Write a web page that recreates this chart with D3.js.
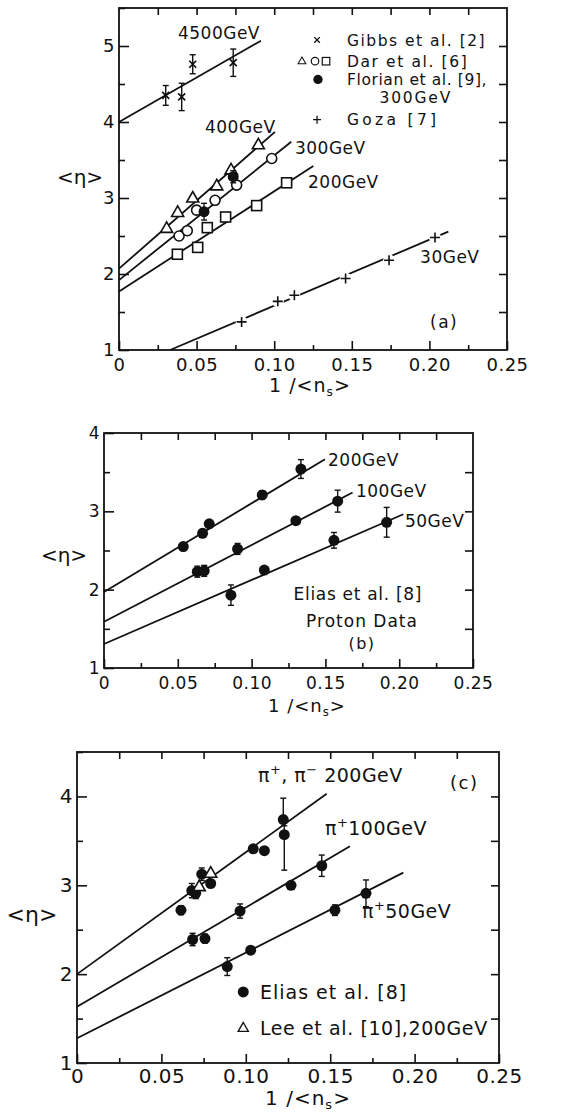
<!DOCTYPE html>
<html>
<head>
<meta charset="utf-8">
<script src="https://cdn.jsdelivr.net/npm/d3@7"></script>
<style>
  body { margin: 0; background: #fff; }
  svg { display: block; background: #fff; }
</style>
</head>
<body>
<svg id="chart" width="561" height="1114"></svg>
<script>
// ---- panel (a) data: <eta> vs 1/<n_s> ----
const gibbs4500 = [
  { x: 0.0301, y: 4.35, lo: 0.13, hi: 0.13 },
  { x: 0.0404, y: 4.33, lo: 0.18, hi: 0.18 },
  { x: 0.0475, y: 4.76, lo: 0.125, hi: 0.125 },
  { x: 0.0736, y: 4.78, lo: 0.18, hi: 0.18 },
]
const dar400 = [[0.0307, 2.60], [0.0378, 2.81], [0.0475, 3.00], [0.0630, 3.16], [0.0722, 3.37], [0.0898, 3.70]]
const dar300 = [[0.0387, 2.50], [0.0440, 2.57], [0.0500, 2.84], [0.0619, 2.97], [0.0758, 3.17], [0.0984, 3.52]]
const dar200 = [[0.0376, 2.26], [0.0507, 2.35], [0.0569, 2.61], [0.0687, 2.75], [0.0887, 2.90], [0.1080, 3.20]]
const florian300 = [
  { x: 0.0548, y: 2.82, lo: 0.11, hi: 0.11 },
  { x: 0.0736, y: 3.28, lo: 0.08, hi: 0.08 },
]
const goza30 = [[0.0790, 1.37], [0.1023, 1.64], [0.1130, 1.72], [0.1460, 1.94], [0.1740, 2.18], [0.2036, 2.48]]
const fitsA = [
  { name: '4500GeV', x: [0, 0.0915], y: [4.00, 5.07] },
  { name: '400GeV', x: [0, 0.1005], y: [2.07, 3.87] },
  { name: '300GeV', x: [0, 0.1110], y: [1.92, 3.74] },
  { name: '200GeV', x: [0, 0.1252], y: [1.77, 3.42] },
  { name: '30GeV', x: [0.0329, 0.2122], y: [1.00, 2.557] },
]

// ---- panel (b) data: Elias et al., proton ----
const eliasP200 = [
  { x: 0.0537, y: 2.55, lo: 0.05, hi: 0.05 },
  { x: 0.0668, y: 2.72, lo: 0.05, hi: 0.05 },
  { x: 0.0713, y: 2.84, lo: 0.04, hi: 0.04 },
  { x: 0.1072, y: 3.21, lo: 0.05, hi: 0.05 },
  { x: 0.1334, y: 3.54, lo: 0.12, hi: 0.12 },
]
const eliasP100 = [
  { x: 0.0632, y: 2.23, lo: 0.07, hi: 0.07 },
  { x: 0.0679, y: 2.24, lo: 0.07, hi: 0.07 },
  { x: 0.0905, y: 2.52, lo: 0.07, hi: 0.07 },
  { x: 0.1300, y: 2.88, lo: 0.04, hi: 0.04 },
  { x: 0.1583, y: 3.13, lo: 0.14, hi: 0.14 },
]
const eliasP50 = [
  { x: 0.0860, y: 1.93, lo: 0.13, hi: 0.13 },
  { x: 0.1086, y: 2.25, lo: 0.04, hi: 0.04 },
  { x: 0.1558, y: 2.63, lo: 0.10, hi: 0.10 },
  { x: 0.1915, y: 2.86, lo: 0.19, hi: 0.19 },
]
const fitsB = [
  { name: '200GeV', x: [0, 0.1497], y: [1.97, 3.666] },
  { name: '100GeV', x: [0, 0.1684], y: [1.59, 3.24] },
  { name: '50GeV', x: [0, 0.2028], y: [1.307, 2.963] },
]

// ---- panel (c) data: pions ----
const pion200 = [
  { x: 0.0616, y: 2.72, lo: 0.05, hi: 0.05 },
  { x: 0.0680, y: 2.94, lo: 0.08, hi: 0.08 },
  { x: 0.0703, y: 2.91, lo: 0.06, hi: 0.06 },
  { x: 0.0739, y: 3.125, lo: 0.07, hi: 0.07 },
  { x: 0.0792, y: 3.02, lo: 0.04, hi: 0.04 },
  { x: 0.1044, y: 3.41, lo: 0, hi: 0 },
  { x: 0.1110, y: 3.39, lo: 0, hi: 0 },
  { x: 0.1222, y: 3.74, lo: 0, hi: 0.24 },
  { x: 0.1228, y: 3.57, lo: 0.40, hi: 0.10 },
]
const lee200 = [[0.0724, 2.985], [0.0792, 3.136]]
const pion100 = [
  { x: 0.0685, y: 2.39, lo: 0.07, hi: 0.07 },
  { x: 0.0758, y: 2.40, lo: 0.05, hi: 0.05 },
  { x: 0.0966, y: 2.71, lo: 0.08, hi: 0.08 },
  { x: 0.1268, y: 3.00, lo: 0.03, hi: 0.03 },
  { x: 0.1450, y: 3.22, lo: 0.12, hi: 0.12 },
]
const pion50 = [
  { x: 0.0890, y: 2.085, lo: 0.10, hi: 0.10 },
  { x: 0.1029, y: 2.27, lo: 0.03, hi: 0.03 },
  { x: 0.1528, y: 2.72, lo: 0.06, hi: 0.06 },
  { x: 0.1712, y: 2.91, lo: 0.15, hi: 0.15 },
]
const fitsC = [
  { name: '200', x: [0, 0.1479], y: [2.00, 4.03] },
  { name: '100', x: [0, 0.1617], y: [1.634, 3.44] },
  { name: '50', x: [0, 0.1933], y: [1.278, 3.143] },
]

const xTicks = [0, 0.05, 0.10, 0.15, 0.20, 0.25]
const xMinorTicks = [0.025, 0.075, 0.125, 0.175, 0.225]

const FONT = '"DejaVu Sans", Verdana, sans-serif'
const INK = '#111'
const svg = d3.select('#chart')

function panel(o) {
  const g = svg.append('g')
  const x = d3.scaleLinear().domain([0, 0.25]).range([o.left, o.right])
  const y = d3.scaleLinear().domain([1, o.ymax]).range([o.bottom, o.top])
  const yMajor = d3.range(1, o.ymax + 0.001, 1)
  const yHalf = d3.range(1.5, o.ymax + 0.001, 0.5)
  const allX = d3.range(0.025, 0.25, 0.025)
  const fmtX = (d) => (d === 0 ? '0' : d.toFixed(2))

  const style = (s) => {
    s.select('.domain').remove()
    s.selectAll('line').attr('stroke', INK).attr('stroke-width', 1.6)
    s.selectAll('text')
      .attr('fill', INK)
      .attr('font-family', FONT)
      .attr('font-size', o.tickFont)
      .attr('letter-spacing', o.tickLs)
  }

  g.append('g').attr('transform', `translate(0,${o.bottom})`)
    .call(d3.axisBottom(x).tickValues(xTicks).tickSize(-9).tickSizeOuter(0)
      .tickPadding(o.xPad).tickFormat(fmtX))
    .call(style)
  g.append('g').attr('transform', `translate(0,${o.bottom})`)
    .call(d3.axisBottom(x).tickValues(xMinorTicks).tickSize(-5).tickSizeOuter(0).tickFormat(''))
    .call(style)
  g.append('g').attr('transform', `translate(0,${o.top})`)
    .call(d3.axisTop(x).tickValues(allX).tickSize(-7).tickSizeOuter(0).tickFormat(''))
    .call(style)
  g.append('g').attr('transform', `translate(${o.left},0)`)
    .call(d3.axisLeft(y).tickValues(yMajor).tickSize(-10).tickSizeOuter(0)
      .tickPadding(4).tickFormat(d3.format('d')))
    .call(style)
  g.append('g').attr('transform', `translate(${o.left},0)`)
    .call(d3.axisLeft(y).tickValues(yHalf.filter((v) => v % 1 !== 0)).tickSize(-6).tickSizeOuter(0).tickFormat(''))
    .call(style)
  g.append('g').attr('transform', `translate(${o.right},0)`)
    .call(d3.axisRight(y).tickValues(yHalf.filter((v) => v < o.ymax)).tickSize(-8).tickSizeOuter(0).tickFormat(''))
    .call(style)

  g.append('rect')
    .attr('x', o.left).attr('y', o.top)
    .attr('width', o.right - o.left).attr('height', o.bottom - o.top)
    .attr('fill', 'none').attr('stroke', INK).attr('stroke-width', 1.8)

  // y title <eta>
  g.append('text')
    .attr('x', o.yTitle[0]).attr('y', o.yTitle[1]).attr('dy', '0.36em')
    .attr('text-anchor', 'middle').attr('font-family', FONT)
    .attr('font-size', o.titleFont).attr('fill', INK)
    .text('<η>')

  // x title 1/<n_s>
  const xt = g.append('text')
    .attr('x', o.xTitle[0]).attr('y', o.xTitle[1]).attr('dy', '0.36em')
    .attr('text-anchor', 'middle').attr('font-family', FONT)
    .attr('font-size', o.xTitleFont).attr('fill', INK).attr('letter-spacing', 1)
  xt.append('tspan').text('1 /<n')
  xt.append('tspan').attr('font-size', o.xTitleFont * 0.65).attr('dy', 4).text('s')
  xt.append('tspan').attr('dy', -4).text('>')

  return { g, x, y }
}

function fitLine(p, f) {
  p.g.append('line')
    .attr('x1', p.x(f.x[0])).attr('y1', p.y(f.y[0]))
    .attr('x2', p.x(f.x[1])).attr('y2', p.y(f.y[1]))
    .attr('stroke', INK).attr('stroke-width', 1.8)
}

function marker(g, type, cx, cy, k = 1) {
  const m = g.append('g').attr('transform', `translate(${cx},${cy}) scale(${k})`)
  if (type === 'x') {
    m.append('path').attr('d', 'M-3.5,-3.5L3.5,3.5M-3.5,3.5L3.5,-3.5')
      .attr('stroke', INK).attr('stroke-width', 1.7).attr('fill', 'none')
  } else if (type === '+') {
    m.append('path').attr('d', 'M-5,0H5M0,-5V5')
      .attr('stroke', INK).attr('stroke-width', 1.6).attr('fill', 'none')
  } else if (type === 'tri') {
    m.append('path').attr('d', 'M0,-6.5L6,4L-6,4Z')
      .attr('stroke', INK).attr('stroke-width', 1.6).attr('fill', '#fff')
  } else if (type === 'circ') {
    m.append('circle').attr('r', 5)
      .attr('stroke', INK).attr('stroke-width', 1.6).attr('fill', '#fff')
  } else if (type === 'sq') {
    m.append('rect').attr('x', -5).attr('y', -5).attr('width', 10).attr('height', 10)
      .attr('stroke', INK).attr('stroke-width', 1.6).attr('fill', '#fff')
  } else if (type === 'dot') {
    m.append('circle').attr('r', 5.5).attr('fill', INK)
  }
}

function errorBars(p, data) {
  data.forEach((d) => {
    const cx = p.x(d.x)
    const segs = []
    if (d.hi > 0) segs.push([d.y, d.y + d.hi])
    if (d.lo > 0) segs.push([d.y, d.y - d.lo])
    segs.forEach(([a, b]) => {
      p.g.append('line')
        .attr('x1', cx).attr('x2', cx).attr('y1', p.y(a)).attr('y2', p.y(b))
        .attr('stroke', INK).attr('stroke-width', 1.4)
      p.g.append('line')
        .attr('x1', cx - 3).attr('x2', cx + 3).attr('y1', p.y(b)).attr('y2', p.y(b))
        .attr('stroke', INK).attr('stroke-width', 1.4)
    })
  })
}

function points(p, data, type, halo) {
  data.forEach((d) => {
    const px = Array.isArray(d) ? d[0] : d.x
    const py = Array.isArray(d) ? d[1] : d.y
    if (halo) p.g.append('circle').attr('cx', p.x(px)).attr('cy', p.y(py)).attr('r', halo).attr('fill', '#fff')
    marker(p.g, type, p.x(px), p.y(py))
  })
}

function label(p, xv, yv, parts, size, ls = 0, anchor = 'start') {
  const t = p.g.append('text')
    .attr('x', p.x(xv)).attr('y', p.y(yv)).attr('dy', size * 0.36)
    .attr('font-family', FONT).attr('font-size', size)
    .attr('letter-spacing', ls).attr('text-anchor', anchor).attr('fill', INK)
  if (typeof parts === 'string') { t.text(parts); return t }
  let shift = 0
  parts.forEach((q) => {
    const want = q.sup ? -size * 0.45 : 0
    t.append('tspan').attr('dy', want - shift)
      .attr('font-size', q.sup ? size * 0.68 : size).text(q.t)
    shift = want
  })
  return t
}

// ---------- (a) ----------
const A = panel({ left: 119, right: 507, top: 8, bottom: 350, ymax: 5.5,
  tickFont: 18, tickLs: 0.5, xPad: 8, titleFont: 20, xTitleFont: 19,
  yTitle: [80, 177], xTitle: [310, 385] })
fitsA.forEach((f) => fitLine(A, f))
errorBars(A, gibbs4500)
points(A, gibbs4500, 'x', 0)
points(A, dar400, 'tri')
points(A, dar300, 'circ')
points(A, dar200, 'sq')
errorBars(A, florian300)
points(A, florian300, 'dot')
points(A, goza30, '+', 6)

label(A, 0.038, 5.17, '4500GeV', 17, 0.5)
label(A, 0.0554, 3.93, '400GeV', 17, 0.5)
label(A, 0.1134, 3.66, '300GeV', 17, 0.5)
label(A, 0.1218, 3.21, '200GeV', 17, 0.5)
label(A, 0.194, 2.22, '30GeV', 17, 0.5)
label(A, 0.2004, 1.37, '(a)', 17, 1.5)

// legend (a)
marker(A.g, 'x', A.x(0.1276), A.y(5.08), 0.8)
marker(A.g, 'tri', A.x(0.1179), A.y(4.80), 0.65)
marker(A.g, 'circ', A.x(0.1263), A.y(4.80), 0.75)
marker(A.g, 'sq', A.x(0.1334), A.y(4.80), 0.75)
marker(A.g, 'dot', A.x(0.1282), A.y(4.56), 0.85)
marker(A.g, '+', A.x(0.1276), A.y(4.03), 0.8)
label(A, 0.1469, 5.08, 'Gibbs et al. [2]', 15.5, 1.5)
label(A, 0.1469, 4.80, 'Dar et al. [6]', 15.5, 1.6)
label(A, 0.1469, 4.56, 'Florian et al. [9],', 15.5, 0.6)
label(A, 0.2146, 4.32, '300GeV', 15.5, 1.8, 'end')
label(A, 0.1469, 4.03, 'Goza [7]', 15.5, 3.3)

// ---------- (b) ----------
const B = panel({ left: 104, right: 473, top: 433, bottom: 668, ymax: 4,
  tickFont: 17, tickLs: 0.5, xPad: 9, titleFont: 20, xTitleFont: 18,
  yTitle: [64, 555], xTitle: [307, 706] })
fitsB.forEach((f) => fitLine(B, f))
;[eliasP200, eliasP100, eliasP50].forEach((s) => { errorBars(B, s); points(B, s, 'dot') })
label(B, 0.1518, 3.66, '200GeV', 17, 0.5)
label(B, 0.1707, 3.26, '100GeV', 17, 0.5)
label(B, 0.2039, 2.88, '50GeV', 17, 0.5)
label(B, 0.172, 1.945, 'Elias et al. [8]', 17, 0.7, 'middle')
label(B, 0.1748, 1.60, 'Proton Data', 17, 1.0, 'middle')
label(B, 0.1748, 1.32, '(b)', 16, 1.5, 'middle')

// ---------- (c) ----------
const C = panel({ left: 77, right: 499, top: 752, bottom: 1063, ymax: 4.5,
  tickFont: 20, tickLs: 0.5, xPad: 6, titleFont: 22, xTitleFont: 20,
  yTitle: [32, 914], xTitle: [308, 1098] })
fitsC.forEach((f) => fitLine(C, f))
;[pion200, pion100, pion50].forEach((s) => { errorBars(C, s); points(C, s, 'dot') })
points(C, lee200, 'tri')

label(C, 0.1072, 4.16, [{ t: 'π' }, { t: '+', sup: true }, { t: ', π' }, { t: '−', sup: true }, { t: ' 200GeV' }], 19, 0.5)
label(C, 0.221, 4.16, '(c)', 18, 1.5)
label(C, 0.1469, 3.565, [{ t: 'π' }, { t: '+', sup: true }, { t: '100GeV' }], 19, 0.5)
label(C, 0.1688, 2.63, [{ t: 'π' }, { t: '+', sup: true }, { t: '50GeV' }], 19, 0.5)

marker(C.g, 'dot', C.x(0.0985), C.y(1.80))
marker(C.g, 'tri', C.x(0.0985), C.y(1.394), 0.85)
label(C, 0.1084, 1.80, 'Elias et al. [8]', 19, 1.0)
label(C, 0.1084, 1.394, 'Lee et al. [10],200GeV', 19, 0.6)
</script>
</body>
</html>
